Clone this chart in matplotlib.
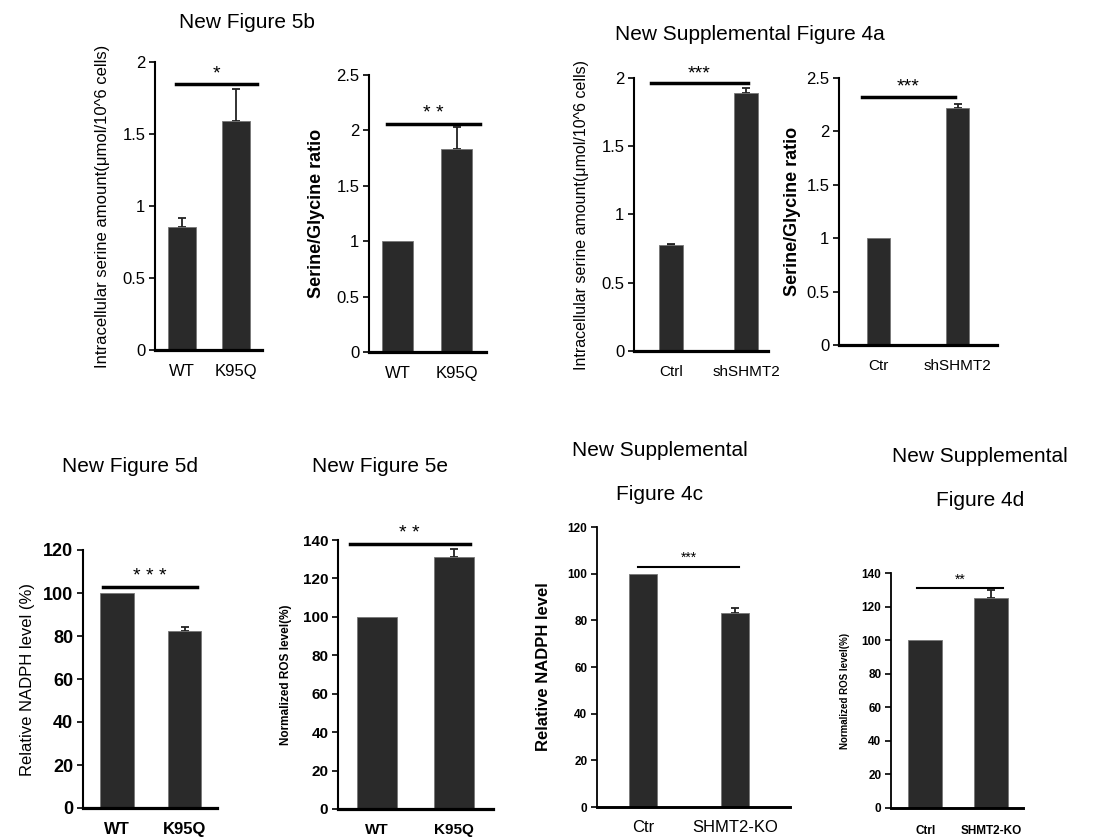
import matplotlib
matplotlib.use("Agg")
import matplotlib.pyplot as plt

plt.rcParams['font.family'] = ['Liberation Sans', 'DejaVu Sans']

# --- data ---
groups_5b = ['WT', 'K95Q']
serine_5b = [0.855, 1.59]
serine_5b_err = [0.065, 0.22]
ratio_5b = [1.0, 1.83]
ratio_5b_err = [0.0, 0.20]

groups_4a_serine = ['Ctrl', 'shSHMT2']
serine_4a = [0.775, 1.89]
serine_4a_err = [0.012, 0.04]
groups_4a_ratio = ['Ctr', 'shSHMT2']
ratio_4a = [1.0, 2.22]
ratio_4a_err = [0.0, 0.04]

groups_5d = ['WT', 'K95Q']
nadph_5d = [100, 82.5]
nadph_5d_err = [0, 1.5]
groups_5e = ['WT', 'K95Q']
ros_5e = [100, 131]
ros_5e_err = [0, 4.5]

groups_4c = ['Ctr', 'SHMT2-KO']
nadph_4c = [100, 83]
nadph_4c_err = [0, 2.2]
groups_4d = ['Ctrl', 'SHMT2-KO']
ros_4d = [100, 125]
ros_4d_err = [0, 5]

sig_5b = ['*', '* *']
sig_4a = ['***', '***']
sig_bottom = ['* * *', '* *', '***', '**']

W, H = 1094, 839
fig = plt.figure(figsize=(W / 100, H / 100), dpi=100)


def make_ax(x0, x1, ytop, ybot):
    return fig.add_axes([x0 / W, 1 - ybot / H, (x1 - x0) / W, (ybot - ytop) / H])


def panel(ax, labels, vals, errs, ylim, yticks, ytlabels, xlim, width,
          ylabel, sig, sig_y, sig_x, tick_fs=12, tick_bold=False,
          xl_fs=12, xl_bold=False, yl_fs=10, yl_bold=False, ylabelpad=4,
          star_fs=14, sig_lw=2.5, spine_lw=1.5, xl_pad=10):
    pos = list(range(len(vals)))
    ax.bar(pos, vals, width, color='#2a2a2a', edgecolor='#777777', linewidth=0.6, zorder=2)
    # only bars that carry an error get a whisker
    epos = [p for p, e in zip(pos, errs) if e > 0]
    evals = [v for v, e in zip(vals, errs) if e > 0]
    eup = [e for e in errs if e > 0]
    if epos:
        ax.errorbar(epos, evals, yerr=[[0] * len(eup), eup], fmt='none',
                    ecolor='#222222', elinewidth=1.3, capsize=3, capthick=1.3, zorder=1)
    ax.set_xlim(*xlim)
    ax.set_ylim(*ylim)
    ax.set_yticks(yticks)
    ax.set_yticklabels(ytlabels, fontsize=tick_fs,
                       fontweight='bold' if tick_bold else 'normal')
    ax.set_xticks(pos)
    ax.set_xticklabels(labels, fontsize=xl_fs,
                       fontweight='bold' if xl_bold else 'normal')
    ax.tick_params(axis='x', length=0, pad=xl_pad)
    ax.tick_params(axis='y', length=4, width=1.2, direction='out', pad=3)
    for s in ['top', 'right']:
        ax.spines[s].set_visible(False)
    ax.spines['left'].set_linewidth(spine_lw)
    ax.spines['bottom'].set_linewidth(spine_lw + 0.8)
    ax.set_ylabel(ylabel, fontsize=yl_fs, fontweight='bold' if yl_bold else 'normal',
                  labelpad=ylabelpad)
    ax.plot(sig_x, [sig_y, sig_y], color='black', lw=sig_lw, clip_on=False, zorder=3)
    span = ylim[1] - ylim[0]
    ax.text(sum(sig_x) / 2, sig_y + span * 0.005, sig, ha='center', va='bottom',
            fontsize=star_fs, clip_on=False)


# top row
ax1 = make_ax(155, 262, 62, 350)
panel(ax1, groups_5b, serine_5b, serine_5b_err, (0, 2), [0, 0.5, 1, 1.5, 2],
      ['0', '0.5', '1', '1.5', '2'], (-0.5, 1.48), 0.52,
      'Intracellular serine amount(\u03bcmol/10^6 cells)', sig_5b[0], 1.85,
      [-0.11, 1.39], yl_fs=12, ylabelpad=9)

ax2 = make_ax(369, 486, 75, 352)
panel(ax2, groups_5b, ratio_5b, ratio_5b_err, (0, 2.5), [0, 0.5, 1, 1.5, 2, 2.5],
      ['0', '0.5', '1', '1.5', '2', '2.5'], (-0.48, 1.49), 0.52,
      'Serine/Glycine ratio', sig_5b[1], 2.06, [-0.18, 1.39],
      yl_fs=13, yl_bold=True, ylabelpad=8)

ax3 = make_ax(634, 768, 78, 351)
panel(ax3, groups_4a_serine, serine_4a, serine_4a_err, (0, 2), [0, 0.5, 1, 1.5, 2],
      ['0', '0.5', '1', '1.5', '2'], (-0.49, 1.29), 0.32,
      'Intracellular serine amount(\u03bcmol/10^6 cells)', sig_4a[0], 1.96,
      [-0.27, 1.03], yl_fs=11.5, ylabelpad=9, xl_fs=11)

ax4 = make_ax(839, 997, 78, 345)
panel(ax4, groups_4a_ratio, ratio_4a, ratio_4a_err, (0, 2.5), [0, 0.5, 1, 1.5, 2, 2.5],
      ['0', '0.5', '1', '1.5', '2', '2.5'], (-0.5, 1.5), 0.30,
      'Serine/Glycine ratio', sig_4a[1], 2.32, [-0.21, 0.97],
      yl_fs=13, yl_bold=True, ylabelpad=4, xl_fs=11)

# bottom row
ax5 = make_ax(83, 217, 550, 808)
panel(ax5, groups_5d, nadph_5d, nadph_5d_err, (0, 120), [0, 20, 40, 60, 80, 100, 120],
      ['0', '20', '40', '60', '80', '100', '120'], (-0.5, 1.48), 0.5,
      'Relative NADPH level (%)', sig_bottom[0], 103, [-0.21, 1.19],
      tick_fs=13, tick_bold=True, xl_fs=12, xl_bold=True, yl_fs=12, ylabelpad=6)

ax6 = make_ax(338, 493, 540, 809)
panel(ax6, groups_5e, ros_5e, ros_5e_err, (0, 140), [0, 20, 40, 60, 80, 100, 120, 140],
      ['0', '20', '40', '60', '80', '100', '120', '140'], (-0.5, 1.5), 0.51,
      'Normalized ROS level(%)', sig_bottom[1], 138, [-0.35, 1.2],
      tick_fs=11, tick_bold=True, xl_fs=11, xl_bold=True, yl_fs=8.5, yl_bold=True,
      ylabelpad=8)

ax7 = make_ax(597, 790, 527, 807)
panel(ax7, groups_4c, nadph_4c, nadph_4c_err, (0, 120), [0, 20, 40, 60, 80, 100, 120],
      ['0', '20', '40', '60', '80', '100', '120'], (-0.5, 1.6), 0.3,
      'Relative NADPH level', sig_bottom[2], 103, [-0.05, 1.04],
      tick_fs=8.5, tick_bold=True, xl_fs=12, yl_fs=12, yl_bold=True, ylabelpad=12,
      star_fs=10, sig_lw=1.5, spine_lw=1.3, xl_pad=9)

ax8 = make_ax(891, 1023, 573, 808)
panel(ax8, groups_4d, ros_4d, ros_4d_err, (0, 140), [0, 20, 40, 60, 80, 100, 120, 140],
      ['0', '20', '40', '60', '80', '100', '120', '140'], (-0.52, 1.48), 0.52,
      'Normalized ROS level(%)', sig_bottom[3], 131, [-0.12, 1.17],
      tick_fs=8.5, tick_bold=True, xl_fs=8.5, xl_bold=True, yl_fs=7, yl_bold=True,
      ylabelpad=8, star_fs=10, sig_lw=1.5, spine_lw=1.3, xl_pad=12)

# panel titles
title_fs = 15
fig.text(247 / W, 1 - 22 / H, 'New Figure 5b', ha='center', va='center', fontsize=title_fs)
fig.text(750 / W, 1 - 35 / H, 'New Supplemental Figure 4a', ha='center', va='center',
         fontsize=title_fs)
fig.text(130 / W, 1 - 467 / H, 'New Figure 5d', ha='center', va='center', fontsize=title_fs)
fig.text(380 / W, 1 - 467 / H, 'New Figure 5e', ha='center', va='center', fontsize=title_fs)
fig.text(660 / W, 1 - 450 / H, 'New Supplemental', ha='center', va='center', fontsize=title_fs)
fig.text(660 / W, 1 - 495 / H, 'Figure 4c', ha='center', va='center', fontsize=title_fs)
fig.text(980 / W, 1 - 457 / H, 'New Supplemental', ha='center', va='center', fontsize=title_fs)
fig.text(980 / W, 1 - 500 / H, 'Figure 4d', ha='center', va='center', fontsize=title_fs)

fig.savefig('out.png', dpi=100)
